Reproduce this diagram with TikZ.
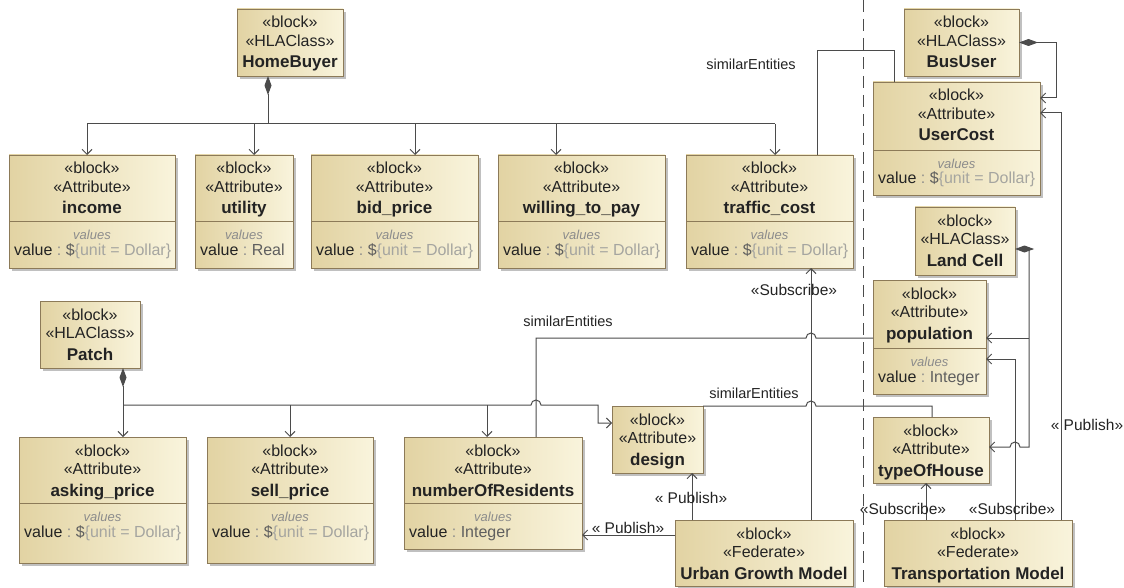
\documentclass[tikz,border=0pt]{standalone}
\usepackage{fontspec}
\setmainfont{Liberation Sans}
\usetikzlibrary{arrows.meta,shadows}

\definecolor{boxdark}{RGB}{226,211,163}
\definecolor{boxlight}{RGB}{249,244,220}
\definecolor{boxedge}{RGB}{140,122,88}
\definecolor{wire}{RGB}{75,75,75}
\definecolor{ink}{RGB}{35,35,35}
\definecolor{vgrey}{RGB}{140,140,140}
\definecolor{vlight}{RGB}{165,165,160}
\definecolor{vmid}{RGB}{95,95,95}

\tikzset{
  umlbox/.style={draw=boxedge, line width=0.9pt, left color=boxdark, right color=boxlight,
    inner sep=0pt, outer sep=0pt,
    drop shadow={shadow xshift=3pt, shadow yshift=-3pt, fill=black!45, opacity=0.55}},
  sepline/.style={draw=boxedge, line width=0.9pt},
  stereo/.style={font=\fontsize{16}{18}\selectfont, text=ink, inner sep=0pt},
  btitle/.style={font=\fontsize{17}{19}\selectfont\bfseries, text=ink, inner sep=0pt},
  valhead/.style={font=\fontsize{13}{15}\selectfont\itshape, text=vgrey, inner sep=0pt},
  valtext/.style={font=\fontsize{16}{18}\selectfont, text=ink, inner sep=0pt},
  wirel/.style={draw=wire, line width=1pt},
  assoc/.style={wirel},
  dep/.style={wirel, -{Straight Barb[length=5pt,width=10pt]}},
  comp/.style={wirel, {Diamond[length=19pt,width=7pt]}-{Straight Barb[length=5pt,width=10pt]}},
  compn/.style={wirel, {Diamond[length=19pt,width=7pt]}-},
  lbl/.style={font=\fontsize{15.5}{17}\selectfont, text=ink, inner sep=0pt},
  rolelbl/.style={font=\fontsize{14.5}{16}\selectfont, text=ink, inner sep=0pt},
  boundary/.style={draw=wire, line width=1pt, dash pattern=on 12pt off 7pt},
}

% value compartments
\newcommand\dollarval{value\ \textcolor{vgrey}{:}\ \textcolor{vmid}{\$}\textcolor{vlight}{\{unit = Dollar\}}}
\newcommand\typedval[1]{value\ \textcolor{vgrey}{:}\ \textcolor{vmid}{#1}}

% block with a name compartment only: name, left, top, right, bottom, stereotype, title
\newcommand\hlablock[7]{%
  \node[umlbox, minimum width={(#4-#2)*1pt}, minimum height={(#5-#3)*1pt}] (#1) at ({(#2+#4)/2},{(#3+#5)/2}) {};
  \node[stereo, anchor=base] (#1-s1) at ({(#2+#4)/2},{#3+19}) {«block»};
  \node[stereo, anchor=base] (#1-s2) at ({(#2+#4)/2},{#3+37.5}) {«#6»};
  \node[btitle, anchor=base] (#1-t) at ({(#2+#4)/2},{#3+59}) {#7};
}

% attribute block with a values compartment: name, left, top, right, separator, bottom, title, value
\newcommand\attrblock[8]{%
  \node[umlbox, minimum width={(#4-#2)*1pt}, minimum height={(#6-#3)*1pt}] (#1) at ({(#2+#4)/2},{(#3+#6)/2}) {};
  \node[stereo, anchor=base] (#1-s1) at ({(#2+#4)/2},{#3+19}) {«block»};
  \node[stereo, anchor=base] (#1-s2) at ({(#2+#4)/2},{#3+37.5}) {«Attribute»};
  \node[btitle, anchor=base] (#1-t) at ({(#2+#4)/2},{#3+59}) {#7};
  \draw[sepline] (#2,#5) -- (#4,#5);
  \node[valhead, anchor=base] (#1-vh) at ({(#2+#4)/2},{#5+18.5}) {values};
  \node[valtext, anchor=base west] (#1-vt) at ({#2+5},{#5+34}) {#8};
}

\begin{document}
\begin{tikzpicture}[x=1pt,y=-1pt]
\useasboundingbox (0,0) rectangle (1124,588);

% federation boundary
\draw[boundary] (863,0) -- (863,588);

% blocks
\hlablock{HomeBuyer}{237}{9}{343}{76}{HLAClass}{HomeBuyer}
\attrblock{income}{9}{155}{175}{221}{268}{income}{\dollarval}
\attrblock{utility}{195}{155}{293}{221}{268}{utility}{\typedval{Real}}
\attrblock{bidprice}{311}{155}{478}{221}{268}{bid\_price}{\dollarval}
\attrblock{willing}{498}{155}{665}{221}{268}{willing\_to\_pay}{\dollarval}
\attrblock{traffic}{686}{155}{853}{221}{268}{traffic\_cost}{\dollarval}
\hlablock{BusUser}{904}{9}{1019}{76}{HLAClass}{BusUser}
\attrblock{UserCost}{873}{82}{1040}{150}{195}{UserCost}{\dollarval}
\hlablock{LandCell}{915}{207}{1015}{275}{HLAClass}{Land Cell}
\attrblock{population}{873}{280}{986}{348}{394}{population}{\typedval{Integer}}
\hlablock{typeOfHouse}{873}{417}{989}{483}{Attribute}{typeOfHouse}
\hlablock{design}{612}{406}{703}{473}{Attribute}{design}
\hlablock{Patch}{40}{301}{140}{368}{HLAClass}{Patch}
\attrblock{asking}{19}{437}{186}{503}{563}{asking\_price}{\dollarval}
\attrblock{sell}{207}{437}{373}{503}{563}{sell\_price}{\dollarval}
\attrblock{residents}{404}{437}{582}{503}{549}{numberOfResidents}{\typedval{Integer}}
\hlablock{UGM}{675}{520}{853}{586}{Federate}{Urban Growth Model}
\hlablock{TM}{884}{520}{1072}{586}{Federate}{Transportation Model}

% HomeBuyer composition
\coordinate (hbj) at (268,124);
\coordinate (hb1) at (87,124);
\coordinate (hb2) at (254,124);
\coordinate (hb3) at (415,124);
\coordinate (hb4) at (556,124);
\coordinate (hb5) at (775,124);
\draw[compn] (hbj |- HomeBuyer.south) -- (hbj);
\draw[wirel] (hb1) -- (hb5);
\draw[dep] (hb1) -- (hb1 |- income.north);
\draw[dep] (hb2) -- (hb2 |- utility.north);
\draw[dep] (hb3) -- (hb3 |- bidprice.north);
\draw[dep] (hb4) -- (hb4 |- willing.north);
\draw[dep] (hb5) -- (hb5 |- traffic.north);

% similarEntities: traffic_cost -- UserCost
\coordinate (se1a) at (817,51);
\coordinate (se1b) at (894,51);
\draw[assoc] (se1a |- traffic.north) -- (se1a) -- (se1b) -- (se1b |- UserCost.north);

% BusUser composition
\coordinate (bu0) at (1056,42.5);
\coordinate (bu1) at (1056,98);
\draw[comp] (BusUser.east) -- (bu0) -- (bu1) -- (bu1 -| UserCost.east);

% Transportation Model publishes UserCost
\coordinate (pu) at (1061,113);
\draw[dep] (pu |- TM.north) -- (pu) -- (pu -| UserCost.east);

% Land Cell composition
\coordinate (lc0) at (1029,249);
\coordinate (lc1) at (1029,338);
\coordinate (lc2) at (1029,447);
\draw[comp] (lc0 -| LandCell.east) -- (lc0) -- (lc2) -- (1020,447)
  arc[start angle=0, end angle=180, radius=5pt] -- (lc2 -| typeOfHouse.east);
\draw[dep] (lc1) -- (lc1 -| population.east);

% Transportation Model subscriptions
\coordinate (tp) at (1015,359);
\draw[dep] (tp |- TM.north) -- (tp) -- (tp -| population.east);
\coordinate (tt) at (926,500);
\draw[dep] (tt |- TM.north) -- (tt |- typeOfHouse.south);

% Urban Growth Model subscribes to traffic_cost
\coordinate (ut) at (811,400);
\draw[dep] (ut |- UGM.north) -- (ut |- traffic.south);

% similarEntities: numberOfResidents -- population
\coordinate (se2) at (536,338);
\draw[assoc] (se2 |- residents.north) -- (se2) -- (806,338)
  arc[start angle=180, end angle=0, radius=5pt] -- (se2 -| population.west);

% similarEntities: design -- typeOfHouse
\coordinate (se3) at (932,406);
\draw[assoc] (design.north east) -- (806,406)
  arc[start angle=180, end angle=0, radius=5pt] -- (se3) -- (se3 |- typeOfHouse.north);

% Patch composition
\coordinate (pj) at (123,405);
\coordinate (ps) at (290,405);
\coordinate (pr) at (487,405);
\coordinate (pd) at (598,405);
\coordinate (pd2) at (598,423);
\draw[comp] (pj |- Patch.south) -- (pj |- asking.north);
\draw[dep] (pj) -- (531,405) arc[start angle=180, end angle=0, radius=5pt]
  -- (pd) -- (pd2) -- (pd2 -| design.west);
\draw[dep] (ps) -- (ps |- sell.north);
\draw[dep] (pr) -- (pr |- residents.north);

% Urban Growth Model publications
\coordinate (ud) at (692,500);
\draw[dep] (ud |- UGM.north) -- (ud |- design.south);
\coordinate (ur) at (640,535);
\draw[dep] (ur -| UGM.west) -- (ur -| residents.east);

% connector labels
\node[rolelbl] (se1-l) at (751,64) {similarEntities};
\node[rolelbl] (se2-l) at (568,321) {similarEntities};
\node[rolelbl] (se3-l) at (754,393) {similarEntities};
\node[lbl] (sub1-l) at (794,290) {«Subscribe»};
\node[lbl] (pub1-l) at (691,498) {« Publish»};
\node[lbl] (pub2-l) at (628,528) {« Publish»};
\node[lbl] (sub2-l) at (903,509) {«Subscribe»};
\node[lbl] (sub3-l) at (1012,509) {«Subscribe»};
\node[lbl] (pub3-l) at (1087,425) {« Publish»};
\end{tikzpicture}
\end{document}
